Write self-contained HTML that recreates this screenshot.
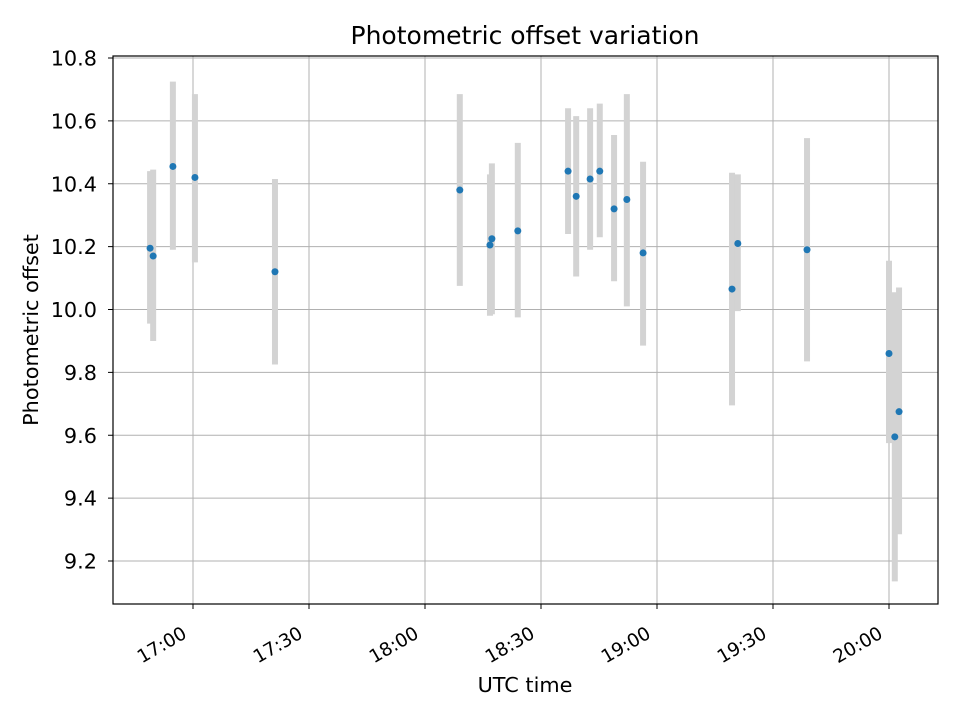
<!DOCTYPE html>
<html><head><meta charset="utf-8"><style>
body{margin:0;background:#fff;}
svg{display:block;font-family:"DejaVu Sans","Liberation Sans",sans-serif;}
</style></head><body>
<svg id="chart" width="960" height="720">
<rect width="960" height="720" fill="#fff"/>
<g id="grid"></g>
<g id="errs"></g>
<g id="pts"></g>
<rect x="113" y="56" width="825" height="548" fill="none" stroke="#000" stroke-width="1.2"/>
<g id="ticks"></g>
<text x="525" y="44" text-anchor="middle" font-size="25">Photometric offset variation</text>
<text x="525" y="692" text-anchor="middle" font-size="20.8">UTC time</text>
<text transform="translate(38,330) rotate(-90)" text-anchor="middle" font-size="20.8">Photometric offset</text>
</svg>
<script>
// minutes after 16:00 UTC
const times=[48.9,49.7,54.8,60.5,81.2,129,136.8,137.3,144,157,159.1,162.7,165.2,168.9,172.2,176.4,199.4,200.9,218.8,240,241.5,242.6];
const values=[10.195,10.17,10.455,10.42,10.12,10.38,10.205,10.225,10.25,10.44,10.36,10.415,10.44,10.32,10.35,10.18,10.065,10.21,10.19,9.86,9.595,9.675];
const errHigh=[10.44,10.445,10.725,10.685,10.415,10.685,10.43,10.465,10.53,10.64,10.615,10.64,10.655,10.555,10.685,10.47,10.435,10.43,10.545,10.155,10.055,10.07];
const errLow=[9.955,9.9,10.19,10.15,9.825,10.075,9.98,9.985,9.975,10.24,10.105,10.19,10.23,10.09,10.01,9.885,9.695,9.995,9.835,9.575,9.135,9.285];
const yTicks=[9.2,9.4,9.6,9.8,10.0,10.2,10.4,10.6,10.8];
const xTicks=[60,90,120,150,180,210,240];
const xTickLabels=["17:00","17:30","18:00","18:30","19:00","19:30","20:00"];
const NS="http://www.w3.org/2000/svg";
function X(m){return 193+(m-60)*116/30;}
function Y(v){return 309.5-(v-10)*(561-58)/1.6;}
function mk(tag,attrs,parent){const e=document.createElementNS(NS,tag);for(const k in attrs)e.setAttribute(k,attrs[k]);parent.appendChild(e);return e;}
const grid=document.getElementById('grid'),ticks=document.getElementById('ticks'),errs=document.getElementById('errs'),pts=document.getElementById('pts');
yTicks.forEach(v=>{
  const y=Y(v);
  const g=mk('line',{x1:113,x2:938,y1:y,y2:y,stroke:'#b0b0b0','stroke-width':1},grid);
  
  
  const t=mk('line',{x1:108,x2:113,y1:y,y2:y,stroke:'#000'},ticks);
  
  
  const l=mk('text',{x:97,y:y+7.5,'text-anchor':'end','font-size':20.8},ticks);
  l.textContent=v.toFixed(1);
  
  
});
xTicks.forEach((m,i)=>{
  const x=X(m);
  const g=mk('line',{x1:x,x2:x,y1:56,y2:604,stroke:'#b0b0b0','stroke-width':1},grid);
  
  
  const t=mk('line',{x1:x,x2:x,y1:604,y2:609,stroke:'#000'},ticks);
  
  
  const l=mk('text',{transform:`translate(${x-5},${637}) rotate(-30)`,'text-anchor':'end','font-size':18.5},ticks);
  l.textContent=xTickLabels[i];
  
  
});
times.forEach((m,i)=>{
  const x=X(m);
  const e=mk('line',{x1:x,x2:x,y1:Y(errHigh[i]),y2:Y(errLow[i]),stroke:'#d3d3d3','stroke-width':6},errs);
  
  
  const c=mk('circle',{cx:x,cy:Y(values[i]),r:3.5,fill:'#1f77b4'},pts);
  
  
});
</script>
</body></html>
